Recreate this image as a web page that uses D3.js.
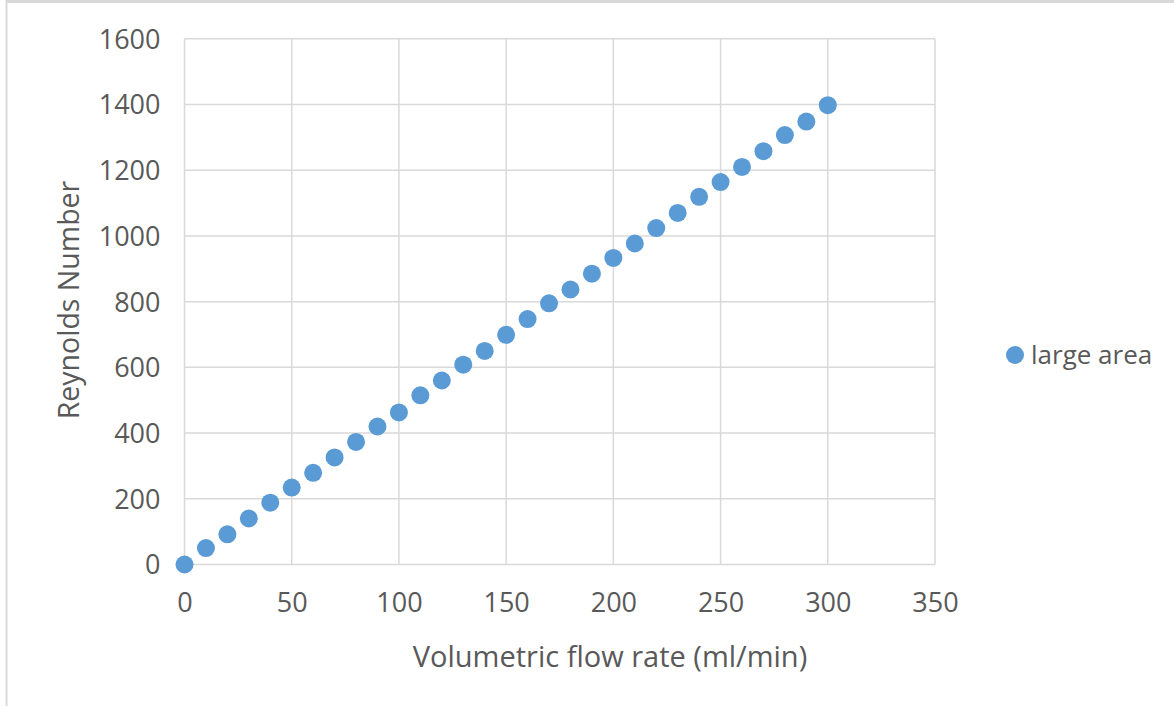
<!DOCTYPE html>
<html>
<head>
<meta charset="utf-8">
<script src="https://cdn.jsdelivr.net/npm/d3@7"></script>
<style>
  html, body { margin: 0; padding: 0; background: #fff; }
  svg { display: block; }
</style>
</head>
<body>
<script>
const flowRates = [0,10,20,30,40,50,60,70,80,90,100,110,120,130,140,150,160,170,180,190,200,210,220,230,240,250,260,270,280,290,300];
const reynolds = [0,50,92,140,188,234,279,326,373,420,463,515,560,608,650,699,747,795,837,885,933,977,1024,1070,1119,1164,1210,1258,1307,1348,1398];
const xTicks = [0,50,100,150,200,250,300,350];
const yTicks = [0,200,400,600,800,1000,1200,1400,1600];
const seriesName = "large area";
const xTitle = "Volumetric flow rate (ml/min)";
const yTitle = "Reynolds Number";

const W = 1174, H = 706;
const plot = { left: 184.5, right: 935, top: 38.8, bottom: 564.5 };
const color = "#5b9bd5";
const textColor = "#595959";
const gridColor = "#d9d9d9";
const font = "'Open Sans', sans-serif";

const svg = d3.select("body").append("svg").attr("width", W).attr("height", H);

// outer frame
svg.append("line").attr("x1", 6).attr("x2", W).attr("y1", 1.5).attr("y2", 1.5)
  .attr("stroke", "#d9d9d9").attr("stroke-width", 3);
svg.append("line").attr("x1", 6.5).attr("x2", 6.5).attr("y1", 0).attr("y2", H)
  .attr("stroke", "#d9d9d9").attr("stroke-width", 2);

const x = d3.scaleLinear().domain([0, 350]).range([plot.left, plot.right]);
const y = d3.scaleLinear().domain([0, 1600]).range([plot.bottom, plot.top]);

// gridlines
const g = svg.append("g");
g.selectAll("line.h").data(yTicks).join("line").attr("class", "h")
  .attr("x1", plot.left).attr("x2", plot.right)
  .attr("y1", d => y(d)).attr("y2", d => y(d))
  .attr("stroke", gridColor).attr("stroke-width", 1.5);
g.selectAll("line.v").data(xTicks).join("line").attr("class", "v")
  .attr("y1", plot.top).attr("y2", plot.bottom)
  .attr("x1", d => x(d)).attr("x2", d => x(d))
  .attr("stroke", gridColor).attr("stroke-width", 1.5);

// axes (labels only)
const xAxis = d3.axisBottom(x).tickValues(xTicks).tickSize(0).tickPadding(0).tickFormat(d3.format("d"));
const yAxis = d3.axisLeft(y).tickValues(yTicks).tickSize(0).tickPadding(0).tickFormat(d3.format("d"));

const gx = svg.append("g").attr("transform", `translate(0,${plot.bottom})`).call(xAxis);
gx.select(".domain").remove();
gx.selectAll("text").attr("font-family", font).attr("font-size", 27).attr("fill", textColor)
  .attr("dy", null).attr("y", 47);

const gy = svg.append("g").attr("transform", `translate(${plot.left},0)`).call(yAxis);
gy.select(".domain").remove();
gy.selectAll("text").attr("font-family", font).attr("font-size", 27).attr("fill", textColor)
  .attr("x", -24).attr("dy", "0.35em");

// points
svg.append("g").selectAll("circle").data(flowRates).join("circle")
  .attr("cx", (d) => x(d))
  .attr("cy", (d, i) => y(reynolds[i]))
  .attr("r", 9)
  .attr("fill", color);

// axis titles
svg.append("text").attr("x", 610).attr("y", 667).attr("text-anchor", "middle")
  .attr("font-family", font).attr("font-size", 29).attr("fill", textColor).text(xTitle);
svg.append("text").attr("transform", "translate(79,300) rotate(-90)").attr("text-anchor", "middle")
  .attr("font-family", font).attr("font-size", 28.5).attr("fill", textColor).text(yTitle);

// legend
svg.append("circle").attr("cx", 1015).attr("cy", 355).attr("r", 9).attr("fill", color);
svg.append("text").attr("x", 1031).attr("y", 355).attr("dy", "0.35em")
  .attr("font-family", font).attr("font-size", 26).attr("fill", textColor).text(seriesName);
</script>
</body>
</html>
